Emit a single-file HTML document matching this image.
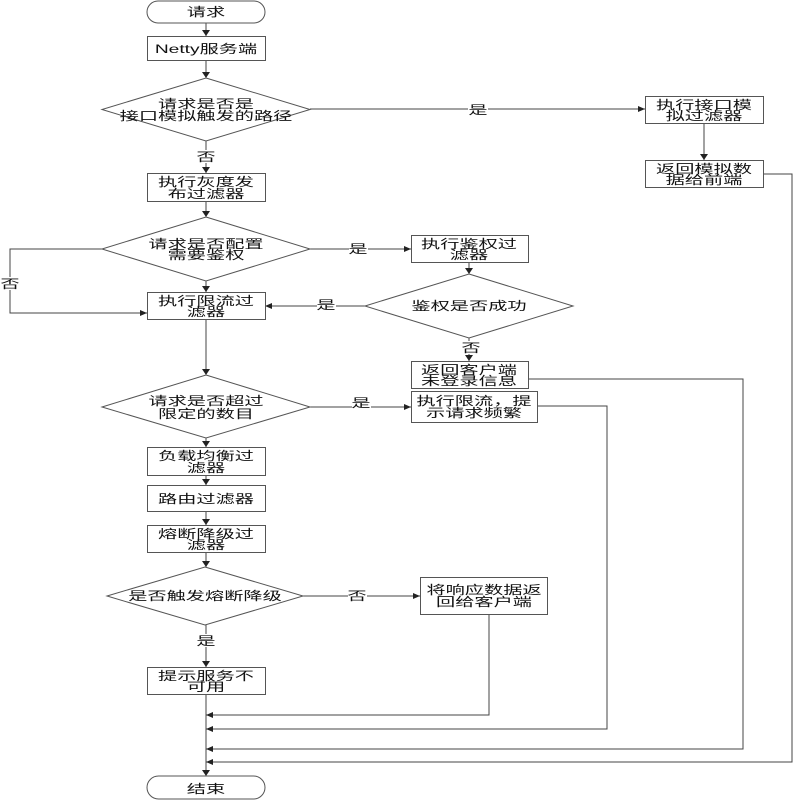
<!DOCTYPE html>
<html><head><meta charset="utf-8"><style>
html,body{margin:0;padding:0;background:#fff;width:800px;height:800px;overflow:hidden}
svg{display:block}
text{font-family:"Liberation Sans","Noto Sans CJK SC",sans-serif;font-size:12px;fill:#111;text-anchor:middle}
.s{fill:#fff;stroke:#555;stroke-width:1}
.l{fill:none;stroke:#444;stroke-width:1}
.a{fill:#222;stroke:none}
.b{fill:#fff;stroke:none}
</style></head><body>
<svg width="800" height="800" viewBox="0 0 800 800" xmlns="http://www.w3.org/2000/svg">
<!-- connectors -->
<g class="l">
<path d="M206 23V36M206 60V78M206 141V173M206 201V217M206 281V292M206 319V375M206 438V447M206 475V485M206 511V525M206 552V567M206 625V667M206 694V776"/>
<path d="M310 109H645M704 123V160M763 174H792V762H206"/>
<path d="M310 249H411M102 249H10V313H147M469 262V274M365 306H265M469 338V361"/>
<path d="M528 379H743V749H206M310 407H411M538 406H607V729H206"/>
<path d="M303 596H420M489 614V715H206"/>
</g>
<!-- arrowheads -->
<g class="a">
<path d="M202 30L210 30L206 36Z M202 72L210 72L206 78Z M202 167L210 167L206 173Z M202 211L210 211L206 217Z M202 286L210 286L206 292Z M202 369L210 369L206 375Z M202 441L210 441L206 447Z M202 479L210 479L206 485Z M202 519L210 519L206 525Z M202 561L210 561L206 567Z M202 661L210 661L206 667Z M202 770L210 770L206 776Z"/>
<path d="M700 154L708 154L704 160Z M465 268L473 268L469 274Z M465 355L473 355L469 361Z"/>
<path d="M638 106L645 109L638 112Z M404 246L411 249L404 252Z M140 310L147 313L140 316Z M404 404L411 407L404 410Z M413 593L420 596L413 599Z"/>
<path d="M272 303L265 306L272 309Z M213 712L206 715L213 718Z M213 726L206 729L213 732Z M213 746L206 749L213 752Z M213 759L206 762L213 765Z"/>
</g>
<!-- shapes -->
<rect class="s" x="147" y="1" width="118" height="22" rx="11" ry="11"/>
<rect class="s" x="147.500" y="36.500" width="118" height="24"/>
<polygon class="s" points="206,78 310,109.500 206,141 102,109.500"/>
<rect class="s" x="147.500" y="173.500" width="118" height="28"/>
<polygon class="s" points="206,217 310,249 206,281 102,249"/>
<rect class="s" x="147.500" y="292.500" width="118" height="27"/>
<polygon class="s" points="206,375 310,407 206,438 102,407"/>
<rect class="s" x="147.500" y="447.500" width="118" height="28"/>
<rect class="s" x="147.500" y="485.500" width="118" height="26"/>
<rect class="s" x="147.500" y="525.500" width="118" height="27"/>
<polygon class="s" points="205,567 303,596 205,625 107,596"/>
<rect class="s" x="147.500" y="667.500" width="118" height="27"/>
<rect class="s" x="147" y="776" width="118" height="23" rx="11.500" ry="11.500"/>
<rect class="s" x="420.500" y="577.500" width="127" height="37"/>
<rect class="s" x="411.500" y="235.500" width="117" height="27"/>
<polygon class="s" points="469,274 573,306 469,338 365,306"/>
<rect class="s" x="411.500" y="361.500" width="117" height="27"/>
<rect class="s" x="411.500" y="391.500" width="126" height="31"/>
<rect class="s" x="645.500" y="96.500" width="118" height="27"/>
<rect class="s" x="645.500" y="160.500" width="118" height="27"/>
<!-- label backgrounds -->
<rect class="b" x="468" y="103" width="20" height="13"/>
<rect class="b" x="197" y="150" width="18" height="13"/>
<rect class="b" x="349" y="242" width="19" height="13"/>
<rect class="b" x="1" y="277" width="18" height="13"/>
<rect class="b" x="317" y="299" width="19" height="13"/>
<rect class="b" x="462" y="341" width="18" height="13"/>
<rect class="b" x="352" y="401" width="19" height="13"/>
<rect class="b" x="348" y="589" width="19" height="13"/>
<rect class="b" x="197" y="634" width="18" height="13"/>
<!-- text -->
<text transform="translate(206,16) scale(1.6,1)">请求</text>
<text transform="translate(206,53) scale(1.6,1)">Netty服务端</text>
<text transform="translate(206,108) scale(1.6,1)">请求是否是</text>
<text transform="translate(206,120) scale(1.6,1)">接口模拟触发的路径</text>
<text transform="translate(206,186) scale(1.6,1)">执行灰度发</text>
<text transform="translate(206,198) scale(1.6,1)">布过滤器</text>
<text transform="translate(206,248) scale(1.6,1)">请求是否配置</text>
<text transform="translate(206,259) scale(1.6,1)">需要鉴权</text>
<text transform="translate(206,305) scale(1.6,1)">执行限流过</text>
<text transform="translate(206,316) scale(1.6,1)">滤器</text>
<text transform="translate(206,405) scale(1.6,1)">请求是否超过</text>
<text transform="translate(206,418) scale(1.6,1)">限定的数目</text>
<text transform="translate(206,460) scale(1.6,1)">负载均衡过</text>
<text transform="translate(206,472) scale(1.6,1)">滤器</text>
<text transform="translate(206,503) scale(1.6,1)">路由过滤器</text>
<text transform="translate(206,538) scale(1.6,1)">熔断降级过</text>
<text transform="translate(206,549) scale(1.6,1)">滤器</text>
<text transform="translate(205,600) scale(1.6,1)">是否触发熔断降级</text>
<text transform="translate(206,680) scale(1.6,1)">提示服务不</text>
<text transform="translate(206,691) scale(1.6,1)">可用</text>
<text transform="translate(206,793) scale(1.6,1)">结束</text>
<text transform="translate(484,594) scale(1.6,1)">将响应数据返</text>
<text transform="translate(484,606) scale(1.6,1)">回给客户端</text>
<text transform="translate(469,248) scale(1.6,1)">执行鉴权过</text>
<text transform="translate(469,259) scale(1.6,1)">滤器</text>
<text transform="translate(469,310) scale(1.6,1)">鉴权是否成功</text>
<text transform="translate(469,374) scale(1.6,1)">返回客户端</text>
<text transform="translate(469,385) scale(1.6,1)">未登录信息</text>
<text transform="translate(474,405) scale(1.6,1)">执行限流，提</text>
<text transform="translate(474,417) scale(1.6,1)">示请求频繁</text>
<text transform="translate(704,109) scale(1.6,1)">执行接口模</text>
<text transform="translate(704,120) scale(1.6,1)">拟过滤器</text>
<text transform="translate(704,173) scale(1.6,1)">返回模拟数</text>
<text transform="translate(704,184) scale(1.6,1)">据给前端</text>
<text transform="translate(478,114) scale(1.6,1)">是</text>
<text transform="translate(206,161) scale(1.6,1)">否</text>
<text transform="translate(358,253) scale(1.6,1)">是</text>
<text transform="translate(10,288) scale(1.6,1)">否</text>
<text transform="translate(326,309) scale(1.6,1)">是</text>
<text transform="translate(471,352) scale(1.6,1)">否</text>
<text transform="translate(361,407) scale(1.6,1)">是</text>
<text transform="translate(357,600) scale(1.6,1)">否</text>
<text transform="translate(206,645) scale(1.6,1)">是</text>
</svg>
</body></html>
